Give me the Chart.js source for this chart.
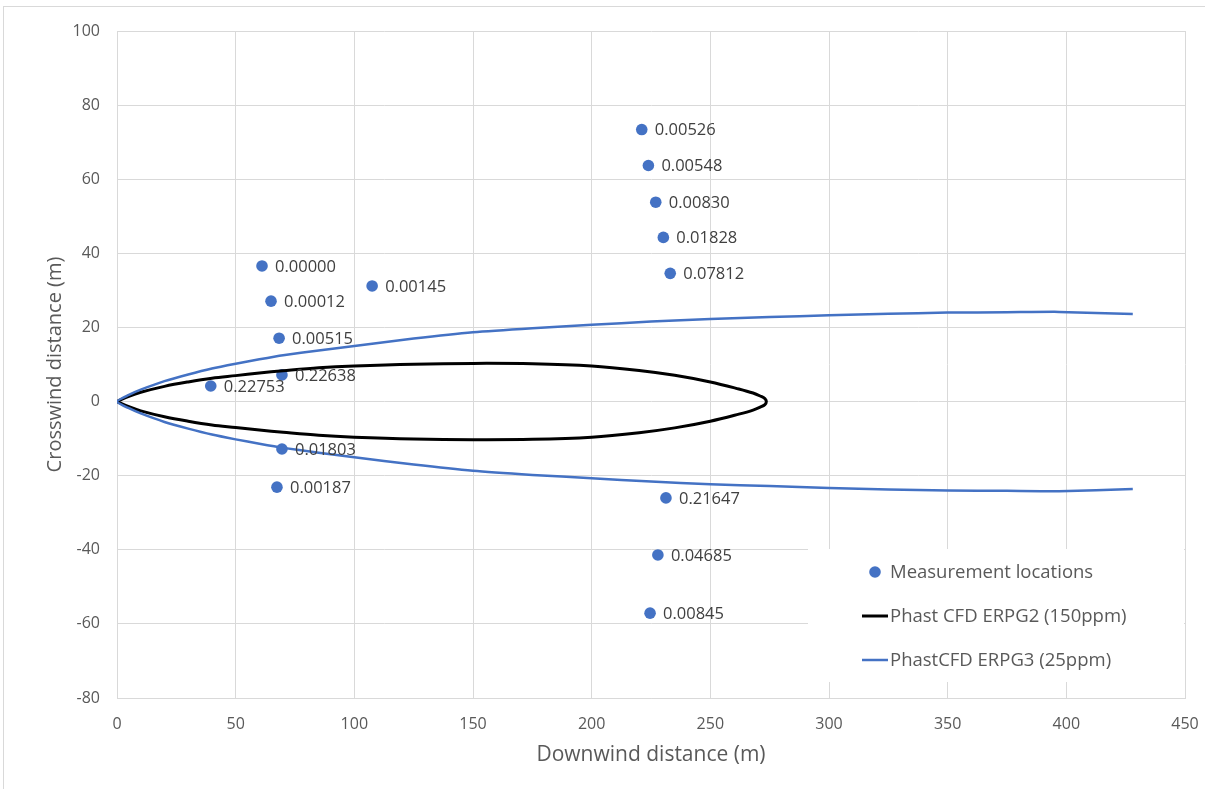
<!DOCTYPE html>
<html>
<head>
<meta charset="utf-8">
<script src="https://cdn.jsdelivr.net/npm/chart.js@4/dist/chart.umd.min.js"></script>
<style>
  html, body { margin: 0; padding: 0; background: #fff; overflow: hidden; }
  #wrap { position: relative; width: 1205px; height: 789px; }
  #frame { position: absolute; left: 3px; top: 6px; right: -10px; bottom: -10px;
           border-left: 1px solid #d9d9d9; border-top: 1px solid #d9d9d9; pointer-events: none; }
  canvas { position: absolute; left: 0; top: 0; }
</style>
</head>
<body>
<div id="wrap">
  <canvas id="plume" width="1205" height="789"></canvas>
  <div id="frame"></div>
</div>
<script>
// measured concentrations at each sensor (downwind x, crosswind y)
const measX = [61.1, 64.9, 68.3, 69.5, 39.5, 107.5, 69.5, 67.4,
               221.1, 223.9, 227.0, 230.2, 233.1, 231.3, 227.9, 224.6];
const measY = [36.6, 27.1, 17.1, 7.2, 4.2, 31.2, -12.8, -23.1,
               73.4, 63.7, 53.8, 44.3, 34.6, -26.0, -41.4, -57.1];
const measLabels = ['0.00000', '0.00012', '0.00515', '0.22638', '0.22753', '0.00145', '0.01803', '0.00187',
                    '0.00526', '0.00548', '0.00830', '0.01828', '0.07812', '0.21647', '0.04685', '0.00845'];

// ERPG2 contour (150 ppm), closed loop
const erpg2X = [0, 5, 10, 20, 30, 40, 50, 60, 70, 85, 100, 125, 150, 175, 200, 220, 235, 250, 262, 268, 271, 273, 273.6,
                273, 271, 268, 262, 250, 235, 220, 200, 175, 150, 125, 100, 85, 70, 60, 50, 40, 30, 20, 10, 5, 0];
const erpg2Y = [0, 1.4, 2.5, 4.1, 5.3, 6.3, 7.0, 7.7, 8.3, 9.1, 9.6, 10.1, 10.3, 10.2, 9.6, 8.4, 7.1, 5.3, 3.4, 2.3, 1.5, 0.8, 0,
                -0.8, -1.5, -2.3, -3.4, -5.3, -7.1, -8.4, -9.6, -10.2, -10.3, -10.1, -9.6, -9.1, -8.3, -7.7, -7.0, -6.3, -5.3, -4.1, -2.5, -1.4, 0];

// ERPG3 contour (25 ppm), open at the far end
const erpg3X = [428, 397, 375, 350, 325, 300, 275, 250, 225, 200, 175, 150, 125, 100, 85, 70, 60, 50, 40, 30, 20, 10, 5, 0,
                5, 10, 20, 30, 40, 50, 60, 70, 85, 100, 125, 150, 175, 200, 225, 250, 275, 300, 325, 350, 375, 397, 428];
const erpg3Y = [23.6, 24.2, 24.1, 24.0, 23.7, 23.3, 22.8, 22.3, 21.6, 20.7, 19.8, 18.7, 17.0, 15.0, 13.8, 12.5, 11.4, 10.2, 8.9, 7.3, 5.5, 3.2, 1.8, 0,
                -1.8, -3.2, -5.5, -7.3, -8.9, -10.2, -11.4, -12.5, -13.8, -15.0, -17.0, -18.7, -19.8, -20.7, -21.6, -22.3, -22.8, -23.3, -23.7, -24.0, -24.1, -24.2, -23.6];

const seriesNames = ['Measurement locations', 'Phast CFD ERPG2 (150ppm)', 'PhastCFD ERPG3 (25ppm)'];

const BLUE = '#4472C4';
const GRID = '#d9d9d9';
const TEXT = '#595959';
const FONT = "'Open Sans', sans-serif";

function toPoints(xs, ys) {
    return xs.map((x, i) => ({ x: x, y: ys[i] }));
}

// value labels next to each measurement dot
const pointLabels = {
    id: 'pointLabels',
    afterDatasetsDraw(chart) {
        const ctx = chart.ctx;
        const meta = chart.getDatasetMeta(0);
        ctx.save();
        ctx.font = '16.5px ' + FONT;
        ctx.fillStyle = '#404040';
        ctx.textAlign = 'left';
        ctx.textBaseline = 'middle';
        meta.data.forEach((pt, i) => {
            ctx.fillText(measLabels[i], pt.x + 13, pt.y + 1);
        });
        ctx.restore();
    }
};

// legend box sitting inside the plot, lower right
const insideLegend = {
    id: 'insideLegend',
    beforeDatasetsDraw(chart) {
        const ctx = chart.ctx;
        const area = chart.chartArea;
        const left = 808, top = 549, right = area.right - 1, bottom = 682;
        ctx.save();
        ctx.fillStyle = '#fff';
        ctx.fillRect(left, top, right - left, bottom - top);
        ctx.font = '18.5px ' + FONT;
        ctx.textBaseline = 'middle';
        ctx.textAlign = 'left';
        const rows = [572, 616, 660];
        chart.data.datasets.forEach((ds, i) => {
            const y = rows[i];
            if (i === 0) {
                ctx.fillStyle = ds.backgroundColor;
                ctx.beginPath();
                ctx.arc(875, y, 5.8, 0, Math.PI * 2);
                ctx.fill();
            } else {
                ctx.strokeStyle = ds.borderColor;
                ctx.lineWidth = ds.borderWidth;
                ctx.beginPath();
                ctx.moveTo(862, y);
                ctx.lineTo(888, y);
                ctx.stroke();
            }
            ctx.fillStyle = TEXT;
            ctx.fillText(ds.label, 890, y + 1);
        });
        ctx.restore();
    }
};

new Chart(document.getElementById('plume'), {
    type: 'scatter',
    data: {
        datasets: [{
            label: seriesNames[0],
            data: toPoints(measX, measY),
            showLine: false,
            pointRadius: 5.8,
            pointHoverRadius: 5.8,
            backgroundColor: BLUE,
            borderWidth: 0,
            order: 2
        }, {
            label: seriesNames[1],
            data: toPoints(erpg2X, erpg2Y),
            showLine: true,
            pointRadius: 0,
            borderColor: '#000000',
            backgroundColor: '#000000',
            borderWidth: 3,
            tension: 0.35,
            order: 1
        }, {
            label: seriesNames[2],
            data: toPoints(erpg3X, erpg3Y),
            showLine: true,
            pointRadius: 0,
            borderColor: BLUE,
            backgroundColor: BLUE,
            borderWidth: 2.5,
            tension: 0.2,
            order: 0
        }]
    },
    options: {
        responsive: false,
        animation: false,
        layout: { padding: { left: 0, top: 31, right: 20, bottom: 0 } },
        plugins: {
            legend: { display: false },
            tooltip: { enabled: false }
        },
        scales: {
            x: {
                type: 'linear',
                min: 0,
                max: 450,
                afterFit(scale) {
                    scale.height = 91;
                    scale.paddingLeft = 0;
                    scale.paddingRight = 0;
                },
                ticks: { stepSize: 50, padding: 17, color: TEXT, font: { family: FONT, size: 16 } },
                grid: { color: GRID, drawTicks: false, lineWidth: 1 },
                border: { color: GRID },
                title: {
                    display: true,
                    text: 'Downwind distance (m)',
                    color: TEXT,
                    font: { family: FONT, size: 21 },
                    padding: { top: 0, bottom: 21 }
                }
            },
            y: {
                type: 'linear',
                min: -80,
                max: 100,
                afterFit(scale) {
                    scale.width = 117;
                    scale.paddingTop = 0;
                    scale.paddingBottom = 0;
                },
                ticks: { stepSize: 20, padding: 17, color: TEXT, font: { family: FONT, size: 16 } },
                grid: { color: GRID, drawTicks: false, lineWidth: 1 },
                border: { color: GRID },
                title: {
                    display: true,
                    text: 'Crosswind distance (m)',
                    color: TEXT,
                    font: { family: FONT, size: 20 },
                    padding: { top: 43, bottom: 0 }
                }
            }
        }
    },
    plugins: [insideLegend, pointLabels]
});
</script>
</body>
</html>
